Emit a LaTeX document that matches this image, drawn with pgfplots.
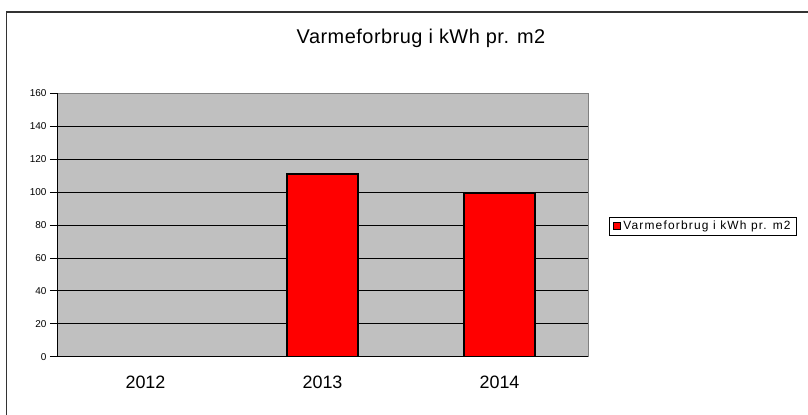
\documentclass[border=0pt]{standalone}
\usepackage{pgfplots}
\pgfplotsset{compat=1.18}
\usepackage{fontspec}
\setmainfont{Liberation Sans}
\newfontfamily\titlefont[LetterSpace=2.5]{Liberation Sans}
\newfontfamily\legfont[LetterSpace=10]{Liberation Sans}
\definecolor{plotgray}{HTML}{C0C0C0}
\begin{document}
\begin{tikzpicture}[x=1bp,y=1bp]
\useasboundingbox (0,0) rectangle (808,414);
\draw[line width=1.5bp, black!80] (6.5,-2) -- (6.5,402) -- (810,402);
\node[anchor=base, font=\titlefont\fontsize{20}{24}\selectfont] at (421,371) {Varmeforbrug i kWh pr. m2};
\begin{axis}[
  at={(57bp,57.3bp)}, anchor=south west,
  scale only axis, width=531bp, height=263.4bp,
  xmin=-0.5, xmax=2.5, ymin=0, ymax=160,
  ytick={0,20,...,160},
  xtick={0,1,2}, xticklabels={2012,2013,2014},
  extra x ticks={-0.5,0.5,1.5,2.5}, extra x tick labels={},
  extra x tick style={major tick length=5bp, tick align=outside, major tick style={black, line width=0.8bp}, grid=none},
  x tick style={draw=none},
  xtick pos=lower, ytick pos=left,
  tick align=outside,
  y tick style={black, line width=0.8bp},
  major tick length=7bp,
  ymajorgrids, grid style={black, line width=0.8bp},
  axis background/.style={fill=plotgray},
  axis line style={draw=black!50, line width=1bp},
  yticklabel style={font=\fontsize{10}{12}\selectfont},
  xticklabel style={font=\fontsize{18}{20}\selectfont, yshift=-9bp},
  /pgf/number format/assume math mode=true,
  legend style={at={(1.0395,0.459)}, anchor=south west, draw=black, line width=1bp,
    font=\legfont\fontsize{12}{14}\selectfont, inner xsep=4bp, inner ysep=2bp, cells={anchor=west}},
  legend image code/.code={\draw[fill=red, draw=black, line width=0.8bp] (5bp,-3.5bp) rectangle (12bp,3.5bp);},
]
\addplot[ybar, bar width=71bp, fill=red, draw=black, line width=1.2bp] coordinates {(1,111) (2,99)};
\addlegendentry{Varmeforbrug i kWh pr. m2}
\draw[black, line width=1bp] (rel axis cs:0,1) -- (rel axis cs:0,0) -- (rel axis cs:1,0);
\end{axis}
\end{tikzpicture}
\end{document}
